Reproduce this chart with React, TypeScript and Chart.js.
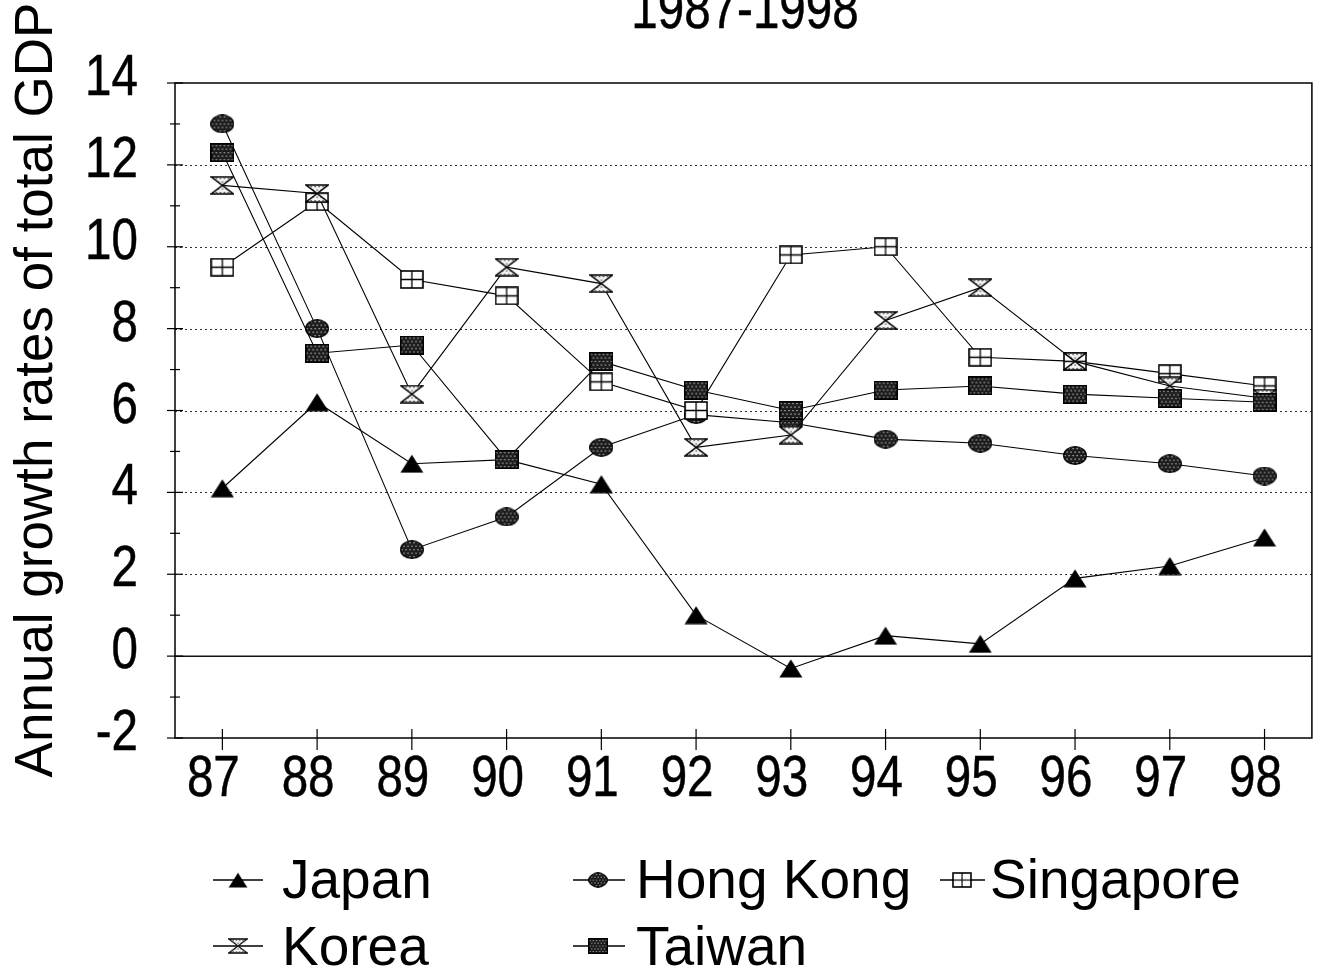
import React, { useEffect, useRef } from "react";
import { Chart, registerables } from "chart.js";

Chart.register(...registerables);

const years = ["87", "88", "89", "90", "91", "92", "93", "94", "95", "96", "97", "98"];
const japan = [4.1, 6.2, 4.7, 4.8, 4.2, 1.0, -0.3, 0.5, 0.3, 1.9, 2.2, 2.9];
const hongKong = [13.0, 8.0, 2.6, 3.4, 5.1, 5.9, 5.7, 5.3, 5.2, 4.9, 4.7, 4.4];
const singapore = [9.5, 11.1, 9.2, 8.8, 6.7, 6.0, 9.8, 10.0, 7.3, 7.2, 6.9, 6.6];
const korea = [11.5, 11.3, 6.4, 9.5, 9.1, 5.1, 5.4, 8.2, 9.0, 7.2, 6.6, 6.3];
const taiwan = [12.3, 7.4, 7.6, 4.8, 7.2, 6.5, 6.0, 6.5, 6.6, 6.4, 6.3, 6.2];

const titleText = "1987-1998";
const yTitleText = "Annual growth rates of total GDP";
const legendNames = ["Japan", "Hong Kong", "Singapore", "Korea", "Taiwan"];

const REGULAR = '"Liberation Sans", Arial, Helvetica, sans-serif';
const CONDENSE = 0.82;

function makeCanvas(w: number, h: number, draw: (ctx: CanvasRenderingContext2D) => void) {
  const c = document.createElement("canvas");
  c.width = w;
  c.height = h;
  const ctx = c.getContext("2d")!;
  draw(ctx);
  return c;
}

function stipple(ctx: CanvasRenderingContext2D, w: number, h: number, bg: string, dot: string) {
  ctx.fillStyle = bg;
  ctx.fillRect(0, 0, w, h);
  ctx.fillStyle = dot;
  let row = 0;
  for (let y = 2; y < h; y += 3.5) {
    const off = row % 2 === 0 ? 1.5 : 3.5;
    for (let x = off; x < w; x += 4) ctx.fillRect(x, y, 1.2, 1.2);
    row++;
  }
}

const MW = 24;
const MH = 19;

function triangleMarker() {
  return makeCanvas(MW, MH, (ctx) => {
    ctx.beginPath();
    ctx.moveTo(MW / 2, 0.5);
    ctx.lineTo(MW - 0.5, MH - 0.5);
    ctx.lineTo(0.5, MH - 0.5);
    ctx.closePath();
    ctx.fillStyle = "#000";
    ctx.fill();
  });
}

function ellipseMarker() {
  return makeCanvas(MW, MH, (ctx) => {
    ctx.beginPath();
    ctx.ellipse(MW / 2, MH / 2, MW / 2 - 0.7, MH / 2 - 0.7, 0, 0, Math.PI * 2);
    ctx.save();
    ctx.clip();
    stipple(ctx, MW, MH, "#1c1c1c", "#d8d8d8");
    ctx.restore();
    ctx.lineWidth = 1.3;
    ctx.strokeStyle = "#000";
    ctx.stroke();
  });
}

function crossSquareMarker() {
  return makeCanvas(MW, MH, (ctx) => {
    ctx.fillStyle = "#fff";
    ctx.fillRect(1, 1, MW - 2, MH - 2);
    ctx.strokeStyle = "#000";
    ctx.lineWidth = 1.6;
    ctx.strokeRect(1, 1, MW - 2, MH - 2);
    ctx.lineWidth = 1.3;
    ctx.beginPath();
    ctx.moveTo(MW / 2, 1);
    ctx.lineTo(MW / 2, MH - 1);
    ctx.moveTo(1, MH / 2);
    ctx.lineTo(MW - 1, MH / 2);
    ctx.stroke();
  });
}

function hourglassMarker() {
  return makeCanvas(MW, MH, (ctx) => {
    ctx.beginPath();
    ctx.moveTo(1, 1);
    ctx.lineTo(MW - 1, 1);
    ctx.lineTo(1, MH - 1);
    ctx.lineTo(MW - 1, MH - 1);
    ctx.closePath();
    ctx.save();
    ctx.clip();
    stipple(ctx, MW, MH, "#f4f4f4", "#222");
    ctx.restore();
    ctx.strokeStyle = "#000";
    ctx.lineWidth = 1.5;
    ctx.stroke();
  });
}

function filledSquareMarker() {
  return makeCanvas(MW, MH, (ctx) => {
    stipple(ctx, MW, MH, "#1c1c1c", "#d8d8d8");
    ctx.strokeStyle = "#000";
    ctx.lineWidth = 1.5;
    ctx.strokeRect(0.75, 0.75, MW - 1.5, MH - 1.5);
  });
}

function condensedText(
  ctx: CanvasRenderingContext2D,
  text: string,
  x: number,
  y: number,
  align: CanvasTextAlign,
  baseline: CanvasTextBaseline
) {
  ctx.save();
  ctx.translate(x, y);
  ctx.scale(CONDENSE, 1);
  ctx.textAlign = align;
  ctx.textBaseline = baseline;
  ctx.fillText(text, 0, 0);
  ctx.lineWidth = 0.5;
  ctx.strokeStyle = "#000";
  ctx.strokeText(text, 0, 0);
  ctx.restore();
}

export default function App() {
  const canvasRef = useRef<HTMLCanvasElement | null>(null);

  useEffect(() => {
    document.body.style.margin = "0";
    const canvas = canvasRef.current;
    if (!canvas) return;

    const markers = [
      triangleMarker(),
      ellipseMarker(),
      crossSquareMarker(),
      hourglassMarker(),
      filledSquareMarker(),
    ];
    const seriesValues = [japan, hongKong, singapore, korea, taiwan];

    const decor = {
      id: "decor",
      beforeDatasetsDraw(chart: any) {
        const ctx: CanvasRenderingContext2D = chart.ctx;
        const { left, right, top, bottom } = chart.chartArea;
        const y = chart.scales.y;
        const x = chart.scales.x;
        ctx.save();
        for (let v = 2; v <= 12; v += 2) {
          const py = Math.round(y.getPixelForValue(v)) + 0.5;
          ctx.beginPath();
          ctx.setLineDash([2, 3]);
          ctx.strokeStyle = "#333";
          ctx.lineWidth = 1;
          ctx.moveTo(left, py);
          ctx.lineTo(right, py);
          ctx.stroke();
        }
        ctx.setLineDash([]);
        const pz = y.getPixelForValue(0);
        ctx.beginPath();
        ctx.strokeStyle = "#111";
        ctx.lineWidth = 1.5;
        ctx.moveTo(left, pz);
        ctx.lineTo(right, pz);
        ctx.stroke();
        ctx.beginPath();
        ctx.lineWidth = 1.5;
        ctx.strokeStyle = "#000";
        ctx.rect(left, top, right - left, bottom - top);
        ctx.stroke();
        ctx.lineWidth = 1.2;
        for (let v = -2; v <= 14; v += 1) {
          const py = y.getPixelForValue(v);
          const major = v % 2 === 0;
          ctx.beginPath();
          ctx.moveTo(left - (major ? 8 : 5), py);
          ctx.lineTo(left + (major ? 8 : 5), py);
          ctx.stroke();
        }
        for (let i = 0; i < years.length; i++) {
          const px = x.getPixelForValue(i);
          ctx.beginPath();
          ctx.moveTo(px, bottom - 9);
          ctx.lineTo(px, bottom + 12);
          ctx.stroke();
        }
        ctx.restore();
      },
      afterDraw(chart: any) {
        const ctx: CanvasRenderingContext2D = chart.ctx;
        const y = chart.scales.y;
        const x = chart.scales.x;
        ctx.save();
        ctx.fillStyle = "#000";
        ctx.font = `58px ${REGULAR}`;
        y.ticks.forEach((t: any, i: number) => {
          const py = y.getPixelForTick(i);
          condensedText(ctx, String(t.label), 138, py - 4, "right", "middle");
        });
        x.ticks.forEach((t: any, i: number) => {
          const px = x.getPixelForTick(i);
          condensedText(ctx, String(years[t.value] ?? t.label), px - 9, 780, "center", "middle");
        });
        condensedText(ctx, titleText, 745, 28, "center", "alphabetic");
        ctx.save();
        ctx.translate(52, 390);
        ctx.rotate(-Math.PI / 2);
        ctx.font = `53px ${REGULAR}`;
        ctx.textAlign = "center";
        ctx.textBaseline = "alphabetic";
        ctx.fillText(yTitleText, 0, 0);
        ctx.restore();
        const items = [
          { cx: 238, cy: 880, tx: 282, ty: 898, l: 213, r: 263 },
          { cx: 598, cy: 880, tx: 636, ty: 898, l: 573, r: 625 },
          { cx: 962, cy: 880, tx: 990, ty: 898, l: 940, r: 985 },
          { cx: 238, cy: 946, tx: 282, ty: 965, l: 213, r: 263 },
          { cx: 598, cy: 946, tx: 636, ty: 965, l: 573, r: 625 },
        ];
        ctx.font = `55px ${REGULAR}`;
        ctx.textAlign = "left";
        ctx.textBaseline = "alphabetic";
        items.forEach((it, i) => {
          ctx.beginPath();
          ctx.strokeStyle = "#000";
          ctx.lineWidth = 1.5;
          ctx.moveTo(it.l, it.cy);
          ctx.lineTo(it.r, it.cy);
          ctx.stroke();
          const m = markers[i];
          const w = m.width * 0.8;
          const h = m.height * 0.8;
          ctx.drawImage(m, it.cx - w / 2, it.cy - h / 2, w, h);
          ctx.fillText(legendNames[i], it.tx, it.ty);
        });
        ctx.restore();
      },
    };

    const chart = new Chart(canvas, {
      type: "line",
      data: {
        labels: years,
        datasets: seriesValues.map((vals, i) => ({
          label: legendNames[i],
          data: vals,
          borderColor: "#000",
          borderWidth: 1.1,
          pointStyle: markers[i] as any,
          pointRadius: 10,
          pointHoverRadius: 10,
          tension: 0,
          fill: false,
          order: 5 - i,
        })),
      },
      options: {
        responsive: false,
        animation: false,
        devicePixelRatio: 1,
        layout: { padding: { top: 83, right: 11, left: 0, bottom: 0 } },
        plugins: {
          legend: { display: false },
          title: { display: false },
          tooltip: { enabled: false },
        },
        scales: {
          x: {
            type: "category",
            offset: true,
            grid: { display: false, drawTicks: false },
            border: { display: false },
            ticks: { display: false, autoSkip: false, maxRotation: 0 },
            afterFit: (s: any) => {
              s.height = 239;
            },
          },
          y: {
            min: -2,
            max: 14,
            grid: { display: false, drawTicks: false },
            border: { display: false },
            ticks: { display: false, stepSize: 2 },
            afterFit: (s: any) => {
              s.width = 175;
            },
          },
        },
      },
      plugins: [decor],
    });

    return () => chart.destroy();
  }, []);

  return (
    <div style={{ width: 1323, height: 977, position: "relative", background: "#fff" }}>
      <canvas ref={canvasRef} width={1323} height={977} style={{ display: "block" }} />
    </div>
  );
}
